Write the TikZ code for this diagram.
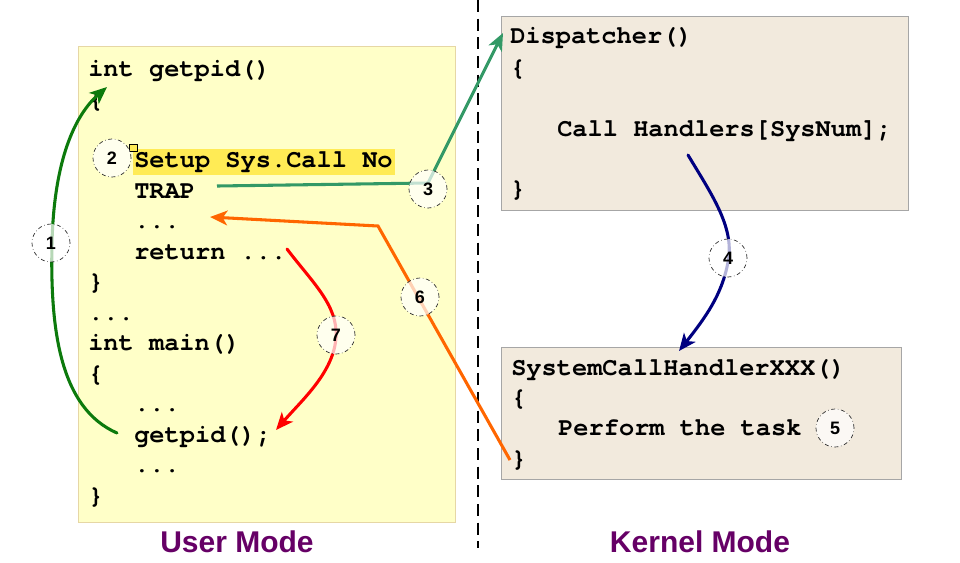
\documentclass[tikz,border=0pt]{standalone}
\usepackage{fontspec}
\setmainfont{Liberation Sans}
\newfontfamily\codefont{TeX Gyre Cursor}
\usetikzlibrary{arrows.meta}
\definecolor{userfill}{HTML}{FFFFC8}
\definecolor{userline}{HTML}{E6D7A5}
\definecolor{hilite}{HTML}{FFEB55}
\definecolor{kernfill}{HTML}{F2EADD}
\definecolor{kernline}{HTML}{A6A6A6}
\definecolor{gA}{HTML}{0C7A0C}
\definecolor{teal3}{HTML}{339966}
\definecolor{navy4}{HTML}{000080}
\definecolor{orange6}{HTML}{FF6600}
\definecolor{red7}{HTML}{FF0000}
\definecolor{modepurple}{HTML}{660066}
\tikzset{
  code/.style={anchor=base west, inner sep=0pt, font=\codefont\bfseries\fontsize{19}{23}\selectfont},
  marker/.style={circle, draw=black!85, dash dot, line width=0.5pt, fill=white, fill opacity=0.7, text opacity=1,
    minimum size=28.5pt, inner sep=0pt, font=\bfseries\fontsize{13.5}{13.5}\selectfont},
  userbox/.style={draw=userline, fill=userfill, line width=1pt, anchor=north west, inner sep=0pt},
  kernbox/.style={draw=kernline, fill=kernfill, line width=1pt, anchor=north west, inner sep=0pt},
  flow/.style={line width=2.3pt, line cap=round},
  tip/.style={-{Stealth[length=13pt,width=11pt,inset=3.5pt]}},
  modelabel/.style={font=\bfseries\fontsize{22.5}{24}\selectfont, text=modepurple, inner sep=0pt},
}
\begin{document}
\begin{tikzpicture}[x=0.75pt,y=-0.75pt]
\useasboundingbox (0,0) rectangle (960,562);
\fill[white] (0,0) rectangle (960,562);

% boxes
\node[userbox, minimum width=282.75pt, minimum height=357pt] (user) at (78,46) {};
\node[kernbox, minimum width=305.25pt, minimum height=145.5pt] (disp) at (501,16) {};
\node[kernbox, minimum width=300pt, minimum height=99pt] (hand) at (501,347) {};

% highlight
\fill[hilite] (133,149) rectangle (395,175);
\draw[black, fill=hilite, line width=0.5pt] (129,144) rectangle (137,151);

% divider
\coordinate (dtop) at (478,0);
\coordinate (dbot) at (478,548);
\draw[line width=1.9pt, dash pattern=on 9pt off 5pt] (dtop) -- (dbot);

% user code
\node[code] (l1) at (88,76) {int getpid()};
\node[code] (l2) at (88,107) {\{};
\node[code] (l4) at (134,167) {Setup Sys.Call No};
\node[code] (l5) at (134,198) {TRAP};
\node[code] (l6) at (134,228) {...};
\node[code] (l7) at (134,259) {return ...};
\node[code] (l8) at (88,289) {\}};
\node[code] (l9) at (88,320) {...};
\node[code] (l10) at (88,350) {int main()};
\node[code] (l11) at (88,381) {\{};
\node[code] (l12) at (134,411) {...};
\node[code] (l13) at (134,442) {getpid();};
\node[code] (l14) at (134,472) {...};
\node[code] (l15) at (88,503) {\}};

% dispatcher code
\node[code] (d1) at (510,43) {Dispatcher()};
\node[code] (d2) at (510,75) {\{};
\node[code] (d3) at (557,136) {Call Handlers[SysNum];};
\node[code] (d4) at (510,196) {\}};

% handler code
\node[code] (h1) at (511,375) {SystemCallHandlerXXX()};
\node[code] (h2) at (511,405) {\{};
\node[code] (h3) at (558,435) {Perform the task};
\node[code] (h4) at (511,466) {\}};

% connector points
\coordinate (s1) at (117,433);
\coordinate (t1) at (107,87);
\coordinate (s3) at (217,186);
\coordinate (k3) at (428,183);
\coordinate (t3) at (503,33);
\coordinate (s4) at (688,155);
\coordinate (t4) at (679,351);
\coordinate (s6) at (510,460);
\coordinate (k6) at (378,226);
\coordinate (t6) at (210,217);
\coordinate (s7) at (287,249);
\coordinate (t7) at (276,430);

% arrows
\draw[flow, gA, tip] (s1) .. controls (60,408) and (50,330) .. (52,243)
   .. controls (54,160) and (75,115) .. (t1);
\draw[flow, teal3, tip, line cap=butt] (s3) -- (k3) -- (t3);
\draw[flow, navy4, tip] (s4) .. controls (712,195) and (735,228) .. (728,262)
   .. controls (722,295) and (705,318) .. (t4);
\draw[flow, orange6, tip, line cap=butt] (s6) -- (k6) -- (t6);
\draw[flow, red7, tip] (s7) .. controls (312,282) and (338,305) .. (336,337)
   .. controls (334,372) and (302,400) .. (t7);

% markers
\node[marker] (m1) at (51,243) {1};
\node[marker] (m2) at (112,158) {2};
\node[marker] (m3) at (428,189) {3};
\node[marker] (m4) at (728,258) {4};
\node[marker] (m5) at (835,428) {5};
\node[marker] (m6) at (420,297) {6};
\node[marker] (m7) at (336,335) {7};

% mode labels
\node[modelabel] (um) at (237,542) {User Mode};
\node[modelabel] (km) at (700,542) {Kernel Mode};
\end{tikzpicture}
\end{document}
